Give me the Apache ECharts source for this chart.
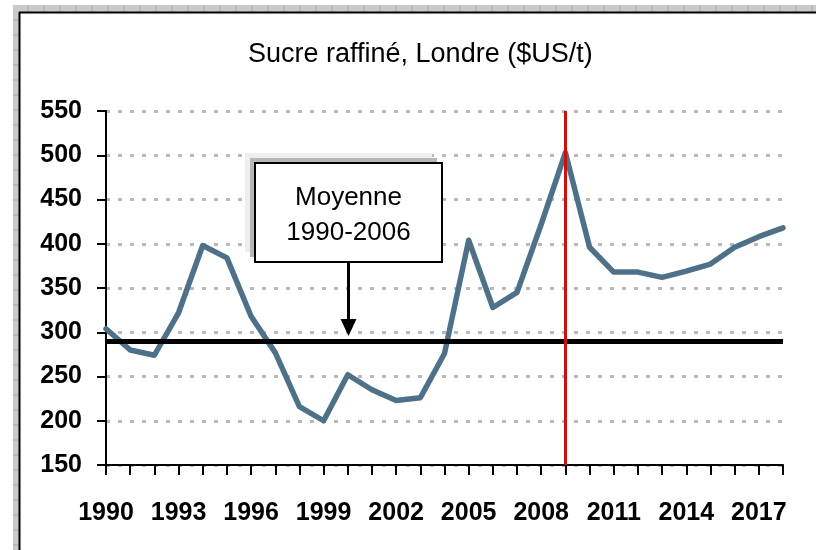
<!DOCTYPE html>
<html>
<head>
<meta charset="utf-8">
<script src="https://cdn.jsdelivr.net/npm/echarts@6/dist/echarts.min.js"></script>
<style>
  html, body { margin: 0; padding: 0; background: #fff; }
  #main { width: 816px; height: 550px; }
</style>
</head>
<body>
<div id="main"></div>
<script>
// data
var years = ['1990','1991','1992','1993','1994','1995','1996','1997','1998','1999',
             '2000','2001','2002','2003','2004','2005','2006','2007','2008','2009',
             '2010','2011','2012','2013','2014','2015','2016','2017','2018'];
var sugarPrice = [304, 280, 274, 322, 398, 384, 318, 277, 216, 200,
                  252, 235, 223, 226, 276, 404, 328, 345, 422, 503,
                  396, 368, 368, 362, 369, 377, 396, 408, 418];
var meanValue = 290;      // moyenne 1990-2006
var markYear = '2009';    // red vertical line
var arrowYear = '2000';   // where the annotation arrow points
var titleText = 'Sucre raffiné, Londre ($US/t)';
var boxLines = ['Moyenne', '1990-2006'];

var tickFont = "'Liberation Sans',Arial,sans-serif";

var chart = echarts.init(document.getElementById('main'));

var option = {
  animation: false,
  backgroundColor: '#fff',
  title: {
    text: titleText,
    left: 248,
    top: 41,
    padding: 0,
    textStyle: {
      fontFamily: tickFont,
      fontSize: 27,
      fontWeight: 'normal',
      color: '#000'
    }
  },
  grid: { left: 106, right: 33, top: 111, bottom: 85 },
  xAxis: {
    type: 'category',
    data: years,
    boundaryGap: false,
    axisLine: { lineStyle: { color: '#000', width: 2 } },
    axisTick: { show: true, interval: 0, length: 10, lineStyle: { color: '#000', width: 2 } },
    axisLabel: {
      // one label every three years
      interval: function (i) { return i % 3 === 0; },
      hideOverlap: false,
      margin: 36,
      fontFamily: tickFont,
      fontSize: 25,
      fontWeight: 'bold',
      color: '#000'
    },
    splitLine: { show: false }
  },
  yAxis: {
    type: 'value',
    min: 150,
    max: 550,
    interval: 50,
    axisLine: { show: true, lineStyle: { color: '#000', width: 2 } },
    axisTick: { show: true, length: 9, lineStyle: { color: '#000', width: 2 } },
    axisLabel: {
      margin: 24,
      fontFamily: tickFont,
      fontSize: 25,
      fontWeight: 'bold',
      color: '#000'
    },
    splitLine: { show: true, lineStyle: { color: '#b8b8b8', width: 3, type: [4, 8] } }
  },
  series: [{
    type: 'line',
    data: sugarPrice,
    symbol: 'none',
    lineStyle: { color: '#4e7189', width: 5.5, cap: 'round', join: 'round' },
    markLine: {
      silent: true,
      symbol: ['none', 'none'],
      label: { show: false },
      data: [
        { yAxis: meanValue, lineStyle: { color: '#000', width: 5, type: 'solid' } },
        { xAxis: markYear, lineStyle: { color: '#cc1111', width: 3, type: 'solid' } }
      ]
    }
  }]
};

chart.setOption(option);

// frame around the chart (spreadsheet look) + annotation box with arrow
var g = [];
g.push({ type: 'rect', shape: { x: 13, y: 5, width: 803, height: 7 }, style: { fill: '#c9c9c9' }, silent: true });
g.push({ type: 'rect', shape: { x: 13, y: 5, width: 6, height: 545 }, style: { fill: '#c9c9c9' }, silent: true });
for (var gx = 28; gx < 816; gx += 16) {
  g.push({ type: 'line', shape: { x1: gx, y1: 5, x2: gx, y2: 12 }, style: { stroke: '#a9a9a9', lineWidth: 1 }, silent: true });
}
for (var gy = 20; gy < 550; gy += 15) {
  g.push({ type: 'line', shape: { x1: 13, y1: gy, x2: 19, y2: gy }, style: { stroke: '#a9a9a9', lineWidth: 1 }, silent: true });
}
g.push({ type: 'line', shape: { x1: 19, y1: 12.5, x2: 816, y2: 12.5 }, style: { stroke: '#000', lineWidth: 2 }, silent: true });
g.push({ type: 'line', shape: { x1: 19.5, y1: 12, x2: 19.5, y2: 550 }, style: { stroke: '#000', lineWidth: 2 }, silent: true });

var p = chart.convertToPixel({ xAxisIndex: 0, yAxisIndex: 0 }, [arrowYear, meanValue]);
var cx = Math.round(p[0]) + 0.5;
var tipY = p[1] - 5;
var bw = 187, bh = 99, bTop = 163;
var bLeft = cx - bw / 2;

g.push({ type: 'rect', shape: { x: bLeft - 10, y: bTop - 10, width: bw, height: bh }, style: { fill: '#eeeeee' }, silent: true, z: 10 });
g.push({ type: 'rect', shape: { x: bLeft - 5, y: bTop - 5, width: bw, height: bh }, style: { fill: '#b7b7b7' }, silent: true, z: 11 });
g.push({ type: 'rect', shape: { x: bLeft, y: bTop, width: bw, height: bh }, style: { fill: '#fff', stroke: '#000', lineWidth: 2 }, silent: true, z: 12 });
g.push({
  type: 'text', x: cx, y: bTop + bh / 2 + 3, silent: true, z: 13,
  style: {
    text: boxLines.join('\n'),
    fontFamily: tickFont,
    fontSize: 26,
    lineHeight: 35,
    fill: '#000',
    align: 'center',
    verticalAlign: 'middle'
  }
});
g.push({ type: 'line', shape: { x1: cx, y1: bTop + bh, x2: cx, y2: tipY - 14 }, style: { stroke: '#000', lineWidth: 3 }, silent: true, z: 12 });
g.push({ type: 'polygon', shape: { points: [[cx - 8, tipY - 17], [cx + 8, tipY - 17], [cx, tipY]] }, style: { fill: '#000' }, silent: true, z: 12 });

chart.setOption({ graphic: g });
</script>
</body>
</html>
